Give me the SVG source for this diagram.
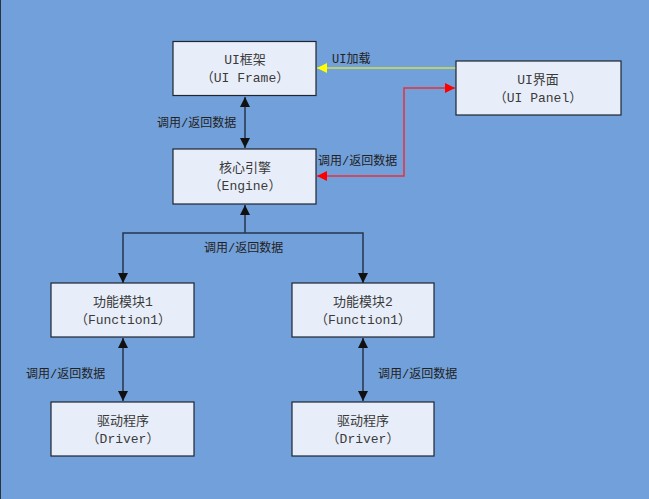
<svg xmlns="http://www.w3.org/2000/svg" width="649" height="499" viewBox="0 0 649 499">
<style>
.box{fill:#e8eef9;stroke:#1e2630;stroke-width:1.2}
.t{font-family:"Liberation Mono","Noto Sans CJK SC",monospace;font-size:13px;fill:#3a3a3a;text-anchor:middle}
.l{font-family:"Liberation Mono","Noto Sans CJK SC",monospace;font-size:12px;fill:#222}
.c{fill:none;stroke:#26364d;stroke-width:1.5}
</style>
<defs>
<marker id="ak" viewBox="0 0 10 10" refX="10" refY="5" markerWidth="10" markerHeight="10" markerUnits="userSpaceOnUse" orient="auto-start-reverse"><path d="M0,0L10,5L0,10z" fill="#111"/></marker>
<marker id="ay" viewBox="0 0 10 10" refX="10" refY="5" markerWidth="10" markerHeight="10" markerUnits="userSpaceOnUse" orient="auto-start-reverse"><path d="M0,0L10,5L0,10z" fill="#ffff00"/></marker>
<marker id="ar" viewBox="0 0 10 10" refX="10" refY="5" markerWidth="10" markerHeight="10" markerUnits="userSpaceOnUse" orient="auto-start-reverse"><path d="M0,0L10,5L0,10z" fill="#ff0000"/></marker>
</defs>
<rect x="0" y="0" width="649" height="499" fill="#72a0da"/>
<line x1="0.5" y1="0" x2="0.5" y2="499" stroke="#2a3340" stroke-width="1"/>
<g id="connectors">
<line class="c" x1="245" y1="97" x2="245" y2="148" marker-start="url(#ak)" marker-end="url(#ak)"/>
<text class="l" x="157" y="127">调用/返回数据</text>
<line x1="456" y1="68" x2="317" y2="68" stroke="#ffff00" stroke-width="1.2" marker-end="url(#ay)"/>
<text class="l" x="332" y="63">UI加载</text>
<polyline points="317,176 404,176 404,88 455,88" fill="none" stroke="#e8303a" stroke-width="1.5" marker-start="url(#ar)" marker-end="url(#ar)"/>
<text class="l" x="318" y="165">调用/返回数据</text>
<polyline class="c" points="245,233 245,205"  marker-end="url(#ak)"/>
<polyline class="c" points="123,283 123,233 363,233 363,283" marker-start="url(#ak)" marker-end="url(#ak)"/>
<text class="l" x="204" y="252">调用/返回数据</text>
<line class="c" x1="123" y1="338" x2="123" y2="401" marker-start="url(#ak)" marker-end="url(#ak)"/>
<text class="l" x="26" y="378">调用/返回数据</text>
<line class="c" x1="363" y1="338" x2="363" y2="401" marker-start="url(#ak)" marker-end="url(#ak)"/>
<text class="l" x="378" y="378">调用/返回数据</text>
</g>
<g id="uiframe"><rect class="box" x="173" y="41.5" width="143" height="54"/><text class="t" x="245" y="64">UI框架</text><text class="t" x="245" y="82">（UI Frame）</text></g>
<g id="uipanel"><rect class="box" x="456" y="61" width="165" height="54"/><text class="t" x="538" y="84">UI界面</text><text class="t" x="538" y="102">（UI Panel）</text></g>
<g id="engine"><rect class="box" x="173" y="149" width="143" height="55"/><text class="t" x="245" y="172">核心引擎</text><text class="t" x="245" y="190">（Engine）</text></g>
<g id="func1"><rect class="box" x="51" y="283" width="143" height="54"/><text class="t" x="123" y="306">功能模块1</text><text class="t" x="123" y="324">（Function1）</text></g>
<g id="driver1"><rect class="box" x="51" y="402" width="143" height="54"/><text class="t" x="123" y="425">驱动程序</text><text class="t" x="123" y="443">（Driver）</text></g>
<g id="func2"><rect class="box" x="292" y="283" width="142" height="54"/><text class="t" x="363" y="306">功能模块2</text><text class="t" x="363" y="324">（Function1）</text></g>
<g id="driver2"><rect class="box" x="292" y="402" width="142" height="54"/><text class="t" x="363" y="425">驱动程序</text><text class="t" x="363" y="443">（Driver）</text></g>
</svg>
